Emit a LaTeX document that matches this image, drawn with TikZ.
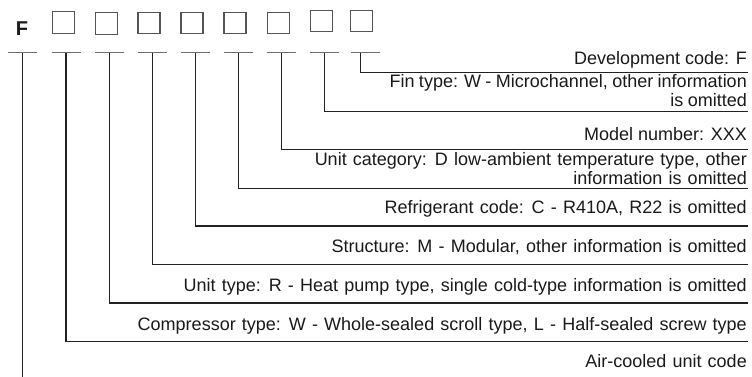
\documentclass[tikz,border=0pt]{standalone}
\usepackage{fontspec}
\setmainfont{Liberation Sans}
\definecolor{boxgray}{HTML}{555555}
\definecolor{tickgray}{HTML}{707070}
\definecolor{leadc}{HTML}{222222}
\definecolor{textc}{HTML}{1A1A1A}
\newcommand\descfont{\fontsize{18}{19}\selectfont\setlength{\spaceskip}{6.2pt}}
\newcommand\descfontnarrow{\fontsize{18}{19}\selectfont\setlength{\spaceskip}{4.4pt}}
\newcommand\descfontplain{\fontsize{18}{19}\selectfont}
\newcommand\codefont{\fontsize{20}{20}\selectfont\bfseries}
\begin{document}
\begin{tikzpicture}[x=1pt,y=-1pt,
  codebox/.style={draw=boxgray, line width=1.2pt, minimum width=22pt, minimum height=21.5pt, inner sep=0pt},
  tickline/.style={draw=tickgray, line width=1.4pt},
  lead/.style={draw=leadc, line width=1.1pt},
  desc/.style={anchor=base east, inner sep=0pt, font=\descfont, text=textc}]
\useasboundingbox (0,0) rectangle (752,377);

% code letters and boxes
\node[anchor=base, inner sep=0pt, font=\codefont, text=textc] (F) at (22,36) {F};
\node[codebox] (b1) at (63.3,22.5) {};
\node[codebox] (b2) at (106.2,23.5) {};
\node[codebox] (b3) at (149,23) {};
\node[codebox] (b4) at (192,23) {};
\node[codebox] (b5) at (235,23) {};
\node[codebox] (b6) at (278.3,23) {};
\node[codebox] (b7) at (321.7,21) {};
\node[codebox] (b8) at (361.7,21) {};

% ticks under each position
\foreach \i/\l in {1/8.3,2/51.7,3/95,4/137.7,5/181,6/224,7/266.7,8/310,9/350.7}{
  \coordinate (ta\i) at (\l,52.7);
  \coordinate (tb\i) at (\l+29,52.7);
  \draw[tickline] (ta\i) -- (tb\i);
}

% leader end points
\foreach \i/\v/\h in {2/66/341.3,3/109.3/303,4/152.3/264.3,5/195.3/226,6/238.3/188.3,7/281.7/149.3,8/324.3/111.3,9/360.7/72.3}{
  \coordinate (v\i) at (\v,52.7);
  \coordinate (e\i) at (748,\h);
  \draw[lead] (v\i) |- (e\i);
}
\coordinate (v1) at (22.7,52.7);
\coordinate (e1) at (22.7,377);
\draw[lead] (v1) -- (e1);

% descriptions
\node[desc, font=\descfontplain] (d9) at (747,64.3) {Development code: F};
\node[desc, font=\descfontnarrow] (d8) at (747,106.7) {\begin{tabular}[b]{@{}r@{}}Fin type: W - Microchannel, other information\\is omitted\end{tabular}};
\node[desc, font=\descfontplain] (d7) at (747,140) {Model number: XXX};
\node[desc] (d6) at (747,184) {\begin{tabular}[b]{@{}r@{}}Unit category: D low-ambient temperature type, other\\information is omitted\end{tabular}};
\node[desc] (d5) at (747,213.7) {Refrigerant code: C - R410A, R22 is omitted};
\node[desc] (d4) at (747,252.7) {Structure: M - Modular, other information is omitted};
\node[desc] (d3) at (747,291.7) {Unit type: R - Heat pump type, single cold-type information is omitted};
\node[desc] (d2) at (747,330) {Compressor type: W - Whole-sealed scroll type, L - Half-sealed screw type};
\node[desc] (d1) at (747,367) {Air-cooled unit code};
\end{tikzpicture}
\end{document}
